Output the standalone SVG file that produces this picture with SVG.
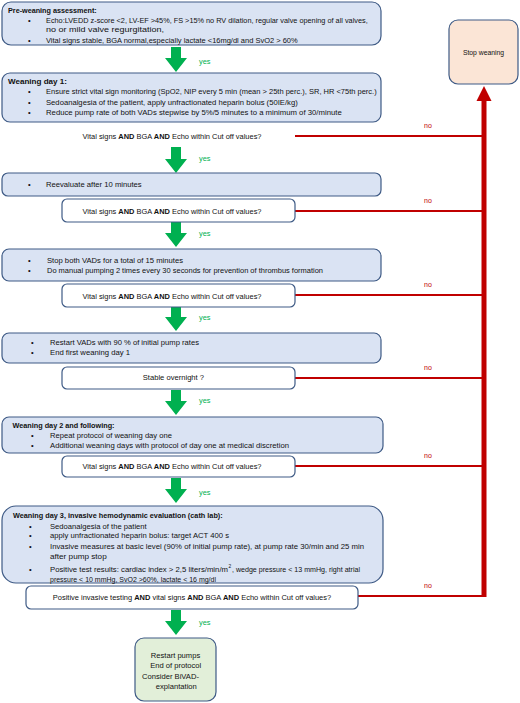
<svg xmlns="http://www.w3.org/2000/svg" width="520" height="703" viewBox="0 0 520 703">
<defs>
<style>
text{font-family:"Liberation Sans",Arial,sans-serif;font-size:7.6px;fill:#111}
.b{font-weight:bold}
.c{text-anchor:middle}
.box{fill:#dae3f3;stroke:#3e5a85;stroke-width:1.2}
.dec{fill:#ffffff;stroke:#3e5a85;stroke-width:1.2}
.yes{fill:#00b050;font-size:7.4px}
.no{fill:#c00000;font-size:7px}
.red{stroke:#c00000;stroke-width:2;fill:none}
.garr{fill:#00b050}
</style>
</defs>
<g id="connectors">
<g id="yes-arrows">
<path class="garr" d="M171,47 H181 V58 H187 L176,72 L165,58 H171 Z"/>
<path class="garr" d="M171,147 H181 V159 H187 L176,173 L165,159 H171 Z"/>
<path class="garr" d="M171,222 H181 V233 H187 L176,247 L165,233 H171 Z"/>
<path class="garr" d="M171,307 H181 V317 H187 L176,331 L165,317 H171 Z"/>
<path class="garr" d="M171,390 H181 V401 H187 L176,415 L165,401 H171 Z"/>
<path class="garr" d="M171,478 H181 V489 H187 L176,503 L165,489 H171 Z"/>
<path class="garr" d="M171,610 H181 V621 H187 L176,635 L165,621 H171 Z"/>
<text class="yes" x="199" y="64">yes</text>
<text class="yes" x="199" y="161">yes</text>
<text class="yes" x="199" y="236">yes</text>
<text class="yes" x="199" y="320">yes</text>
<text class="yes" x="199" y="403">yes</text>
<text class="yes" x="199" y="495">yes</text>
<text class="yes" x="199" y="625">yes</text>
</g>
<g id="no-lines">
<line class="red" x1="295" y1="136" x2="484" y2="136"/>
<line class="red" x1="295" y1="211" x2="484" y2="211"/>
<line class="red" x1="295" y1="295" x2="484" y2="295"/>
<line class="red" x1="295" y1="378" x2="484" y2="378"/>
<line class="red" x1="295" y1="466" x2="484" y2="466"/>
<line class="red" x1="358" y1="596" x2="484" y2="596"/>
<rect x="481.5" y="100" width="5" height="497" fill="#c00000"/>
<path d="M476.5,101 L484,86 L491.5,101 Z" fill="#c00000"/>
<text class="no" x="424" y="128">no</text>
<text class="no" x="424" y="203">no</text>
<text class="no" x="424" y="287">no</text>
<text class="no" x="424" y="370">no</text>
<text class="no" x="424" y="458">no</text>
<text class="no" x="424" y="588">no</text>
</g>
</g>
<g id="pre-weaning">
<rect class="box" x="2" y="2" width="379" height="43" rx="9"/>
<text class="b" x="8" y="12.5" textLength="88.7" lengthAdjust="spacingAndGlyphs">Pre-weaning assessment:</text>
<text x="28" y="22.5">•</text><text x="46" y="22.5" textLength="321.7" lengthAdjust="spacingAndGlyphs">Echo:LVEDD z-score &lt;2, LV-EF &gt;45%, FS &gt;15% no RV dilation, regular valve opening of all valves,</text>
<text x="46" y="32" textLength="118" lengthAdjust="spacingAndGlyphs">no or mild valve regurgitation,</text>
<text x="28" y="42.5">•</text><text x="46" y="42.5" textLength="251.7" lengthAdjust="spacingAndGlyphs">Vital signs stable, BGA normal,especially lactate &lt;16mg/dl and SvO2 &gt; 60%</text>
</g>
<g id="weaning-day1">
<rect class="box" x="2" y="73" width="379" height="49" rx="8"/>
<text class="b" x="8" y="84" textLength="59" lengthAdjust="spacingAndGlyphs">Weaning day 1:</text>
<text x="28" y="94">•</text><text x="46" y="94" textLength="330.7" lengthAdjust="spacingAndGlyphs">Ensure strict vital sign monitoring  (SpO2, NIP every 5 min (mean &gt; 25th perc.), SR, HR &lt;75th perc.)</text>
<text x="28" y="104.5">•</text><text x="46" y="104.5" textLength="251.7" lengthAdjust="spacingAndGlyphs">Sedoanalgesia of the patient, apply unfractionated heparin bolus (50IE/kg)</text>
<text x="28" y="115">•</text><text x="46" y="115" textLength="295.7" lengthAdjust="spacingAndGlyphs">Reduce pump rate of both VADs stepwise by 5%/5 minutes to a minimum of 30/minute</text>
</g>
<g id="decision1">
<text class="c" x="172" y="138.5" textLength="179" lengthAdjust="spacingAndGlyphs">Vital signs <tspan class="b">AND</tspan> BGA <tspan class="b">AND</tspan> Echo within Cut off values?</text>
</g>
<g id="reevaluate">
<rect class="box" x="2" y="173" width="379" height="23" rx="6"/>
<text x="28" y="186.5">•</text><text x="46" y="186.5" textLength="95.7" lengthAdjust="spacingAndGlyphs">Reevaluate after 10 minutes</text>
</g>
<g id="decision2">
<rect class="dec" x="62" y="199" width="233" height="23" rx="5"/>
<text class="c" x="172" y="213.5" textLength="179" lengthAdjust="spacingAndGlyphs">Vital signs <tspan class="b">AND</tspan> BGA <tspan class="b">AND</tspan> Echo within Cut off values?</text>
</g>
<g id="stop-vads">
<rect class="box" x="2" y="249" width="379" height="32" rx="7"/>
<text x="28" y="262.5">•</text><text x="47" y="262.5" textLength="136" lengthAdjust="spacingAndGlyphs">Stop both VADs for a total of 15 minutes</text>
<text x="28" y="273">•</text><text x="47" y="273" textLength="276" lengthAdjust="spacingAndGlyphs">Do manual pumping 2 times every 30 seconds for prevention of thrombus formation</text>
</g>
<g id="decision3">
<rect class="dec" x="62" y="284" width="233" height="23" rx="5"/>
<text class="c" x="172" y="298.5" textLength="179" lengthAdjust="spacingAndGlyphs">Vital signs <tspan class="b">AND</tspan> BGA <tspan class="b">AND</tspan> Echo within Cut off values?</text>
</g>
<g id="restart-vads">
<rect class="box" x="2" y="333" width="379" height="30" rx="7"/>
<text x="31" y="345">•</text><text x="50" y="345" textLength="149" lengthAdjust="spacingAndGlyphs">Restart VADs with 90 % of initial pump rates</text>
<text x="31" y="355">•</text><text x="50" y="355" textLength="80" lengthAdjust="spacingAndGlyphs">End first weaning  day 1</text>
</g>
<g id="decision4">
<rect class="dec" x="62" y="367" width="233" height="22" rx="5"/>
<text class="c" x="173.4" y="380" textLength="61.3" lengthAdjust="spacingAndGlyphs">Stable overnight ?</text>
</g>
<g id="weaning-day2">
<rect class="box" x="2" y="417" width="381" height="36" rx="7"/>
<text class="b" x="12.5" y="427.5" textLength="102" lengthAdjust="spacingAndGlyphs">Weaning day 2 and following:</text>
<text x="31" y="438">•</text><text x="50" y="438" textLength="122" lengthAdjust="spacingAndGlyphs">Repeat protocol of weaning day one</text>
<text x="31" y="448">•</text><text x="50" y="448" textLength="239" lengthAdjust="spacingAndGlyphs">Additional weaning days with protocol of day one at medical discretion</text>
</g>
<g id="decision5">
<rect class="dec" x="62" y="456" width="233" height="21" rx="5"/>
<text class="c" x="172" y="469" textLength="179" lengthAdjust="spacingAndGlyphs">Vital signs <tspan class="b">AND</tspan> BGA <tspan class="b">AND</tspan> Echo within Cut off values?</text>
</g>
<g id="weaning-day3">
<rect class="box" x="2" y="506" width="381" height="77" rx="14"/>
<text class="b" x="13" y="518" textLength="209.7" lengthAdjust="spacingAndGlyphs">Weaning day 3, invasive hemodynamic evaluation (cath lab):</text>
<text x="29" y="528.5">•</text><text x="50" y="528.5" textLength="96.7" lengthAdjust="spacingAndGlyphs">Sedoanalgesia of the patient</text>
<text x="29" y="538">•</text><text x="50" y="538" textLength="179" lengthAdjust="spacingAndGlyphs">apply unfractionated heparin bolus: target ACT 400 s</text>
<text x="29" y="548.5">•</text><text x="50" y="548.5" textLength="314" lengthAdjust="spacingAndGlyphs">Invasive measures at basic level (90% of initial pump rate), at  pump rate 30/min and  25 min</text>
<text x="50" y="558.5" textLength="56.7" lengthAdjust="spacingAndGlyphs">after pump stop</text>
<text x="29" y="571.5">•</text><text x="50" y="571.5" textLength="178" lengthAdjust="spacingAndGlyphs">Positive test results: cardiac index &gt; 2,5 liters/min/m</text>
<text x="228.5" y="568" style="font-size:4.8px">2</text>
<text x="232" y="571.5" textLength="128" lengthAdjust="spacingAndGlyphs">, wedge pressure &lt; 13 mmHg, right atrial</text>
<text x="50" y="581.5" textLength="166" lengthAdjust="spacingAndGlyphs">pressure &lt; 10 mmHg, SvO2 &gt;60%, lactate &lt;  16 mg/dl</text>
</g>
<g id="decision6">
<rect class="dec" x="26" y="586" width="332" height="23" rx="5"/>
<text class="c" x="192" y="600" textLength="278.3" lengthAdjust="spacingAndGlyphs">Positive invasive testing <tspan class="b">AND</tspan> vital signs <tspan class="b">AND</tspan> BGA <tspan class="b">AND</tspan> Echo within Cut off values?</text>
</g>
<g id="restart-pumps">
<rect x="135" y="638" width="81" height="63" rx="9" fill="#e2efd9" stroke="#3e5a85" stroke-width="1.2"/>
<text class="c" x="175.5" y="657.5">Restart pumps</text>
<text class="c" x="175.7" y="668">End of protocol</text>
<text class="c" x="170.5" y="678.5">Consider  BiVAD-</text>
<text class="c" x="176.3" y="689">explantation</text>
</g>
<g id="stop-weaning">
<rect x="449" y="20" width="69" height="64" rx="9" fill="#fbe5d6" stroke="#3e5a85" stroke-width="1.2"/>
<text class="c" x="483.5" y="55" style="font-size:6.8px">Stop weaning</text>
</g>
</svg>
